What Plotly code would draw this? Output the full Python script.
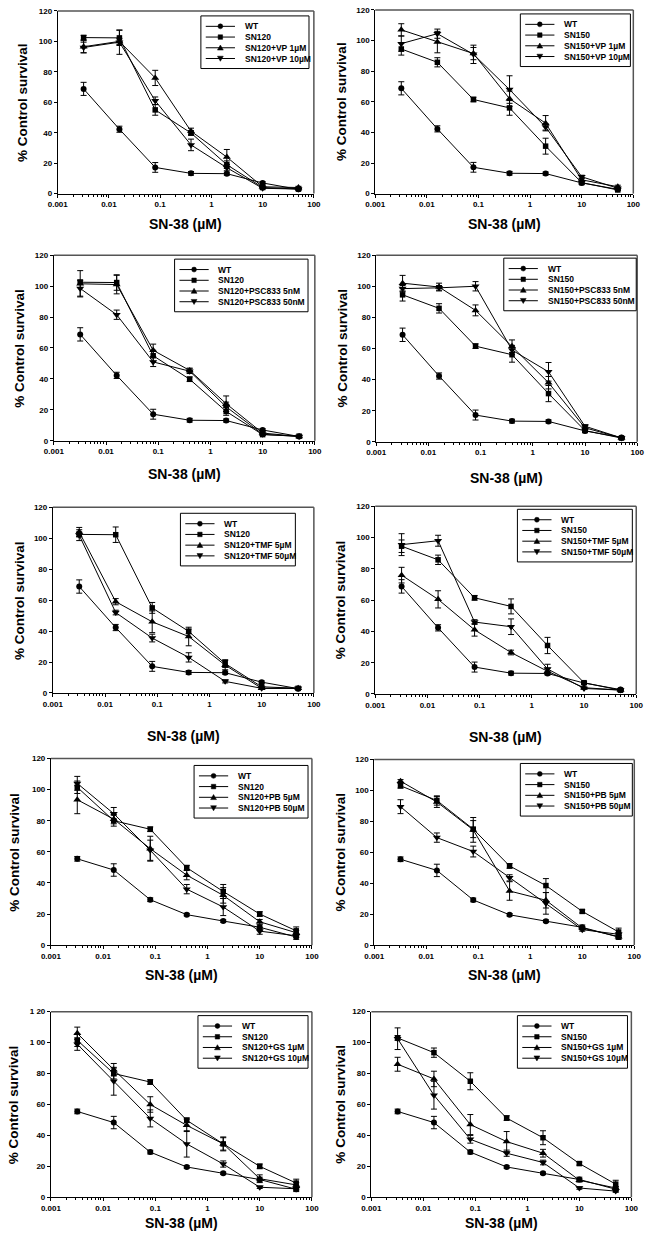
import plotly.graph_objects as go

W, H = 652, 1242

# SN-38 concentrations (uM)
conc = [0.0032, 0.016, 0.08, 0.4, 2.0, 10.0, 50.0]

# shared curves, upper six panels
wt_a = [68.8, 42.3, 17.2, 13.3, 13.1, 7.0, 2.8]
wt_a_err = [4.3, 2.0, 3.2, 1.2, 1.0, 0.8, 0.5]
sn120_a = [102.5, 102.3, 55.0, 39.8, 19.0, 4.0, 3.0]
sn120_a_err = [1.5, 5.0, 3.5, 1.5, 2.5, 0.5, 0.5]
sn150_a = [94.5, 85.8, 61.5, 56.0, 31.0, 7.2, 2.4]
sn150_a_err = [4.0, 3.0, 1.5, 4.8, 5.2, 0.8, 0.5]

# shared curves, lower four panels
wt_b = [55.5, 48.3, 29.2, 19.6, 15.5, 11.5, 5.2]
wt_b_err = [1.5, 4.0, 1.2, 0.8, 0.8, 1.5, 1.5]
sn120_b = [101.5, 80.0, 74.5, 49.8, 34.5, 20.0, 9.2]
sn120_b_err = [4.0, 3.5, 1.5, 1.5, 4.5, 1.5, 2.5]
sn150_b = [103.0, 93.5, 75.0, 51.2, 38.5, 21.8, 8.5]
sn150_b_err = [1.5, 3.0, 5.5, 1.5, 4.5, 1.0, 2.5]

# modulators
vp1_120 = [96.5, 100.0, 76.0, 41.0, 24.0, 4.5, 4.0]
vp1_120_err = [4.0, 2.0, 5.0, 2.0, 5.0, 0.8, 0.8]
vp10_120 = [96.0, 99.5, 61.0, 32.0, 17.0, 3.5, 3.0]
vp10_120_err = [3.5, 8.0, 2.5, 3.8, 2.0, 0.5, 0.5]
vp1_150 = [107.0, 99.0, 91.5, 62.0, 46.0, 9.0, 4.5]
vp1_150_err = [4.0, 7.0, 4.0, 5.0, 5.0, 1.0, 1.0]
vp10_150 = [98.0, 104.5, 91.0, 68.0, 43.5, 11.0, 3.5]
vp10_150_err = [5.0, 3.0, 6.0, 9.0, 2.0, 1.0, 0.5]

psc5_120 = [101.5, 101.0, 58.5, 45.5, 24.0, 5.0, 2.8]
psc5_120_err = [8.5, 6.0, 4.0, 1.5, 5.0, 0.8, 0.5]
psc50_120 = [98.5, 81.5, 51.0, 45.0, 22.0, 4.2, 2.8]
psc50_120_err = [5.0, 3.0, 3.0, 1.5, 3.0, 0.8, 0.5]
psc5_150 = [102.0, 99.5, 84.5, 61.5, 38.0, 9.0, 2.5]
psc5_150_err = [5.0, 2.5, 3.5, 4.0, 4.0, 1.0, 0.5]
psc50_150 = [98.5, 99.0, 100.0, 59.0, 45.0, 10.0, 2.5]
psc50_150_err = [2.0, 1.5, 3.0, 3.0, 6.0, 1.0, 0.5]

tmf5_120 = [104.0, 59.0, 46.0, 36.5, 18.0, 3.0, 3.0]
tmf5_120_err = [3.0, 2.0, 7.0, 6.0, 3.0, 0.5, 0.5]
tmf50_120 = [102.0, 52.0, 35.5, 23.0, 7.5, 3.0, 3.0]
tmf50_120_err = [3.5, 1.5, 2.5, 3.0, 1.0, 0.5, 0.5]
tmf5_150 = [76.0, 60.5, 41.0, 26.5, 14.5, 4.0, 2.5]
tmf5_150_err = [5.0, 5.5, 4.0, 1.5, 2.0, 0.5, 0.5]
tmf50_150 = [95.5, 98.0, 46.0, 43.0, 16.0, 3.5, 2.5]
tmf50_150_err = [7.0, 3.5, 1.5, 5.0, 3.0, 0.5, 0.5]

pb5_120 = [93.5, 81.0, 62.0, 45.0, 32.0, 15.0, 8.0]
pb5_120_err = [9.0, 3.0, 8.0, 3.0, 5.0, 1.5, 1.5]
pb50_120 = [104.0, 84.5, 61.0, 36.0, 24.5, 9.0, 6.0]
pb50_120_err = [4.5, 4.0, 6.5, 3.0, 5.5, 2.0, 1.0]
pb5_150 = [106.0, 92.5, 74.5, 35.0, 29.0, 11.0, 5.5]
pb5_150_err = [1.0, 3.5, 8.0, 6.0, 5.0, 1.0, 1.0]
pb50_150 = [89.5, 69.5, 60.5, 43.5, 27.0, 10.0, 7.0]
pb50_150_err = [4.5, 3.0, 3.5, 2.0, 7.0, 1.0, 1.0]

gs1_120 = [106.0, 82.5, 60.0, 46.5, 34.5, 12.0, 8.0]
gs1_120_err = [4.0, 4.0, 5.0, 4.0, 4.0, 2.5, 1.5]
gs10_120 = [99.0, 75.0, 51.0, 34.5, 21.5, 6.5, 5.5]
gs10_120_err = [4.0, 9.0, 5.5, 8.5, 2.0, 0.8, 1.0]
gs1_150 = [86.0, 76.5, 47.0, 36.0, 28.5, 11.0, 6.0]
gs1_150_err = [4.5, 5.0, 6.5, 6.5, 2.5, 1.0, 1.0]
gs10_150 = [102.5, 66.0, 37.5, 28.5, 22.5, 6.0, 4.0]
gs10_150_err = [7.0, 9.0, 2.5, 2.0, 1.5, 0.8, 0.8]

x_tickvals = [0.001, 0.01, 0.1, 1, 10, 100]
x_ticktext = ["0.001", "0.01", "0.1", "1", "10", "100"]
y_tickvals = [0, 20, 40, 60, 80, 100, 120]
y_ticktext = ["0", "20", "40", "60", "80", "100", "120"]
y_ticktext_odd = ["0", "20", "40", "60", "80", "1 00", "1 20"]

panels = [
    [("WT", wt_a, wt_a_err), ("SN120", sn120_a, sn120_a_err),
     ("SN120+VP 1µM", vp1_120, vp1_120_err), ("SN120+VP 10µM", vp10_120, vp10_120_err)],
    [("WT", wt_a, wt_a_err), ("SN150", sn150_a, sn150_a_err),
     ("SN150+VP 1µM", vp1_150, vp1_150_err), ("SN150+VP 10µM", vp10_150, vp10_150_err)],
    [("WT", wt_a, wt_a_err), ("SN120", sn120_a, sn120_a_err),
     ("SN120+PSC833 5nM", psc5_120, psc5_120_err), ("SN120+PSC833 50nM", psc50_120, psc50_120_err)],
    [("WT", wt_a, wt_a_err), ("SN150", sn150_a, sn150_a_err),
     ("SN150+PSC833 5nM", psc5_150, psc5_150_err), ("SN150+PSC833 50nM", psc50_150, psc50_150_err)],
    [("WT", wt_a, wt_a_err), ("SN120", sn120_a, sn120_a_err),
     ("SN120+TMF 5µM", tmf5_120, tmf5_120_err), ("SN120+TMF 50µM", tmf50_120, tmf50_120_err)],
    [("WT", wt_a, wt_a_err), ("SN150", sn150_a, sn150_a_err),
     ("SN150+TMF 5µM", tmf5_150, tmf5_150_err), ("SN150+TMF 50µM", tmf50_150, tmf50_150_err)],
    [("WT", wt_b, wt_b_err), ("SN120", sn120_b, sn120_b_err),
     ("SN120+PB 5µM", pb5_120, pb5_120_err), ("SN120+PB 50µM", pb50_120, pb50_120_err)],
    [("WT", wt_b, wt_b_err), ("SN150", sn150_b, sn150_b_err),
     ("SN150+PB 5µM", pb5_150, pb5_150_err), ("SN150+PB 50µM", pb50_150, pb50_150_err)],
    [("WT", wt_b, wt_b_err), ("SN120", sn120_b, sn120_b_err),
     ("SN120+GS 1µM", gs1_120, gs1_120_err), ("SN120+GS 10µM", gs10_120, gs10_120_err)],
    [("WT", wt_b, wt_b_err), ("SN150", sn150_b, sn150_b_err),
     ("SN150+GS 1µM", gs1_150, gs1_150_err), ("SN150+GS 10µM", gs10_150, gs10_150_err)],
]

# layout in pixels: plot box (left, right, top, bottom)
boxes = [(49, 312, 7, 191), (375, 640, 6, 191),
         (45, 313, 253, 440), (376, 644, 253, 441),
         (44, 312, 507, 694), (375, 643, 506, 695),
         (42, 310, 760, 948), (374, 641, 761, 948),
         (42, 310, 1015, 1202), (371, 638, 1015, 1202)]
legend_boxes = [(196, 307, 12), (524, 637, 10),
                (169, 306, 257), (507, 643, 256),
                (175, 293, 513), (521, 639, 509),
                (189, 306, 767), (524, 639, 765),
                (193, 306, 1019), (521, 634, 1019)]
xtitle_y = [222, 222, 473, 477, 737, 738, 978, 978, 1228, 1228]
ytitle_x = [13, 341, 10, 341, 9, 339, 5, 339, 4, 339]

symbols = ["circle", "square", "triangle-up", "triangle-down"]
sizes = [6, 5.5, 7, 7]

FONT = "Liberation Sans, Arial, sans-serif"


def px(x):
    return x / W


def py(y):
    return 1 - y / H


fig = go.Figure()
layout = dict(width=W, height=H, margin=dict(l=0, r=0, t=0, b=0),
              paper_bgcolor="white", plot_bgcolor="white", showlegend=False)
shapes = []
annotations = []

minor_vals = [m * 10 ** e for e in range(-3, 2) for m in range(2, 10)]

for i, series in enumerate(panels):
    s = "" if i == 0 else str(i + 1)
    l, r, t, b = boxes[i]
    tickfont = dict(family=FONT, size=8, color="black", weight="bold")
    layout["xaxis" + s] = dict(
        domain=[px(l), px(r)], anchor="y" + s, type="log", range=[-3, 2],
        tickvals=x_tickvals, ticktext=x_ticktext, ticks="outside", ticklen=3,
        tickcolor="black", showline=True, linecolor="black", linewidth=1,
        showgrid=False, zeroline=False, tickfont=tickfont,
        minor=dict(tickvals=minor_vals, ticks="outside", ticklen=2,
                   tickcolor="black", showgrid=False),
    )
    layout["yaxis" + s] = dict(
        domain=[py(b), py(t)], anchor="x" + s, range=[0, 120],
        tickvals=y_tickvals, ticktext=y_ticktext_odd if i == 8 else y_ticktext,
        ticks="outside", ticklen=3, tickcolor="black", showline=True,
        linecolor="black", linewidth=1, showgrid=False, zeroline=False,
        tickfont=tickfont,
    )

    for k, (name, vals, err) in enumerate(series):
        fig.add_trace(go.Scatter(
            x=conc, y=vals, name=name, xaxis="x" + s, yaxis="y" + s,
            mode="lines+markers", cliponaxis=False,
            line=dict(color="black", width=1),
            marker=dict(symbol=symbols[k], size=sizes[k], color="black"),
            error_y=dict(type="data", array=err, color="black", thickness=1, width=3),
        ))

    # grey top/right frame
    shapes.append(dict(type="line", xref="paper", yref="paper", x0=px(l), x1=px(r),
                       y0=py(t), y1=py(t), line=dict(color="#555", width=1.5)))
    shapes.append(dict(type="line", xref="paper", yref="paper", x0=px(r), x1=px(r),
                       y0=py(t), y1=py(b), line=dict(color="#555", width=1.5)))

    # axis titles
    annotations.append(dict(text="SN-38 (µM)", xref="paper", yref="paper",
                            x=px((l + r) / 2), y=py(xtitle_y[i]), showarrow=False,
                            xanchor="center", yanchor="middle",
                            font=dict(family=FONT, size=14, color="black", weight="bold")))
    annotations.append(dict(text="% Control survival", xref="paper", yref="paper",
                            x=px(ytitle_x[i]), y=py((t + b) / 2), showarrow=False,
                            xanchor="center", yanchor="middle", textangle=-90,
                            font=dict(family=FONT, size=13.5, color="black", weight="bold")))

    # legend box
    L, R, T = legend_boxes[i]
    shapes.append(dict(type="rect", xref="paper", yref="paper", x0=px(L), x1=px(R),
                       y0=py(T), y1=py(T + 53), fillcolor="white",
                       line=dict(color="black", width=1), layer="above"))
    for k, (name, vals, err) in enumerate(series):
        yc = T + 10.5 + k * 10.8
        shapes.append(dict(type="line", xref="paper", yref="paper", x0=px(L + 5),
                           x1=px(L + 35), y0=py(yc), y1=py(yc),
                           line=dict(color="black", width=1), layer="above"))
        mx = L + 20
        if k == 0:
            mk = dict(type="circle", x0=px(mx - 2.5), x1=px(mx + 2.5),
                      y0=py(yc - 2.5), y1=py(yc + 2.5))
        elif k == 1:
            mk = dict(type="rect", x0=px(mx - 2.3), x1=px(mx + 2.3),
                      y0=py(yc - 2.3), y1=py(yc + 2.3))
        elif k == 2:
            mk = dict(type="path", path="M %f,%f L %f,%f L %f,%f Z" % (
                px(mx - 3), py(yc + 2.3), px(mx + 3), py(yc + 2.3), px(mx), py(yc - 2.8)))
        else:
            mk = dict(type="path", path="M %f,%f L %f,%f L %f,%f Z" % (
                px(mx - 3), py(yc - 2.3), px(mx + 3), py(yc - 2.3), px(mx), py(yc + 2.8)))
        mk.update(xref="paper", yref="paper", fillcolor="black",
                  line=dict(color="black", width=0.5), layer="above")
        shapes.append(mk)
        annotations.append(dict(text=name, xref="paper", yref="paper", x=px(L + 43),
                                y=py(yc), xanchor="left", yanchor="middle",
                                showarrow=False,
                                font=dict(family=FONT, size=8.5, color="black",
                                          weight="bold")))

layout["shapes"] = shapes
layout["annotations"] = annotations
fig.update_layout(**layout)

fig.write_html("out.html", config={"displayModeBar": False},
               post_script="document.body.style.margin='0px';")
